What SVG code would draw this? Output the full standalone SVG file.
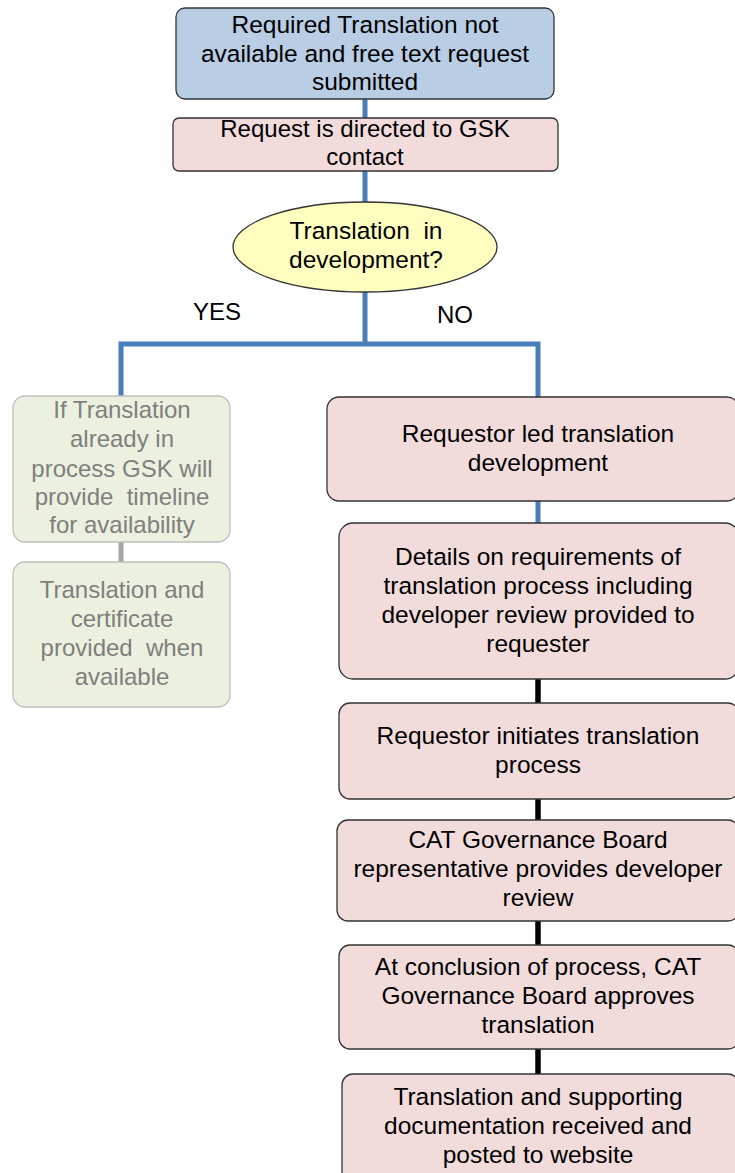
<svg xmlns="http://www.w3.org/2000/svg" width="735" height="1173" viewBox="0 0 735 1173">
<style>
.t{font-family:"Liberation Sans",Arial,sans-serif;font-size:24.5px;fill:#000;text-anchor:middle}
.s{font-size:24px}
.g{fill:#7f7f7f;font-size:24px}
.blue{fill:#b9cde5;stroke:#333;stroke-width:1.3}
.pink{fill:#f2dcdb;stroke:#333;stroke-width:1.3}
.grey{fill:#ebf1de;stroke:#bfbfbf;stroke-width:1.3}
.yel{fill:#ffffc0;stroke:#333;stroke-width:1.3}
.cb{fill:none;stroke:#4a7ebb;stroke-width:5}
.ck{fill:none;stroke:#000;stroke-width:5.5}
.cg{fill:none;stroke:#a6a6a6;stroke-width:5}
</style>
<rect width="735" height="1173" fill="#fff"/>
<g id="connectors">
<line class="cb" x1="365" y1="99" x2="365" y2="118"/>
<line class="cb" x1="365" y1="171" x2="365" y2="202"/>
<polyline class="cb" points="121,397 121,344 538,344 538,397"/>
<line class="cb" x1="365" y1="292" x2="365" y2="344"/>
<line class="cb" x1="538" y1="501" x2="538" y2="523"/>
<line class="cg" x1="121" y1="542" x2="121" y2="562"/>
<line class="ck" x1="538" y1="679" x2="538" y2="703"/>
<line class="ck" x1="538" y1="799" x2="538" y2="820"/>
<line class="ck" x1="538" y1="921" x2="538" y2="945"/>
<line class="ck" x1="538" y1="1049" x2="538" y2="1074"/>
<text class="t s" x="217" y="320">YES</text>
<text class="t s" x="455" y="323">NO</text>
</g>
<g id="n1">
<rect class="blue" x="176" y="8" width="378" height="91" rx="9"/>
<text class="t" x="365" y="33">Required Translation not</text>
<text class="t" x="365" y="62">available and free text request</text>
<text class="t" x="365" y="90">submitted</text>
</g>
<g id="n2">
<rect class="pink" x="173" y="118" width="385" height="53" rx="6"/>
<text class="t s" x="365" y="137">Request is directed to GSK</text>
<text class="t s" x="365" y="165">contact</text>
</g>
<g id="n3">
<ellipse class="yel" cx="365" cy="247" rx="132" ry="45"/>
<text class="t" x="366" y="239" xml:space="preserve">Translation  in</text>
<text class="t" x="366" y="268">development?</text>
</g>
<g id="n4">
<rect class="grey" x="13" y="396" width="217" height="146" rx="12"/>
<text class="t g" x="122" y="418">If Translation</text>
<text class="t g" x="122" y="447">already in</text>
<text class="t g" x="122" y="477">process GSK will</text>
<text class="t g" x="122" y="505" xml:space="preserve">provide  timeline</text>
<text class="t g" x="122" y="533">for availability</text>
</g>
<g id="n5">
<rect class="grey" x="13" y="562" width="217" height="145" rx="12"/>
<text class="t g" x="122" y="598">Translation and</text>
<text class="t g" x="122" y="627">certificate</text>
<text class="t g" x="122" y="656" xml:space="preserve">provided  when</text>
<text class="t g" x="122" y="685">available</text>
</g>
<g id="n6">
<rect class="pink" x="327" y="397" width="412" height="104" rx="12"/>
<text class="t" x="538" y="442">Requestor led translation</text>
<text class="t" x="538" y="471">development</text>
</g>
<g id="n7">
<rect class="pink" x="339" y="523" width="400" height="156" rx="14"/>
<text class="t" x="538" y="565">Details on requirements of</text>
<text class="t" x="538" y="594">translation process including</text>
<text class="t" x="538" y="623">developer review provided to</text>
<text class="t" x="538" y="652">requester</text>
</g>
<g id="n8">
<rect class="pink" x="339" y="703" width="400" height="96" rx="11"/>
<text class="t" x="538" y="744">Requestor initiates translation</text>
<text class="t" x="538" y="773">process</text>
</g>
<g id="n9">
<rect class="pink" x="337" y="820" width="402" height="101" rx="11"/>
<text class="t" x="538" y="848">CAT Governance Board</text>
<text class="t" x="538" y="877">representative provides developer</text>
<text class="t" x="538" y="906">review</text>
</g>
<g id="n10">
<rect class="pink" x="339" y="945" width="400" height="104" rx="11"/>
<text class="t" x="538" y="975">At conclusion of process, CAT</text>
<text class="t" x="538" y="1004">Governance Board approves</text>
<text class="t" x="538" y="1033">translation</text>
</g>
<g id="n11">
<rect class="pink" x="342" y="1074" width="397" height="120" rx="11"/>
<text class="t" x="538" y="1105">Translation and supporting</text>
<text class="t" x="538" y="1134">documentation received and</text>
<text class="t" x="538" y="1163">posted to website</text>
</g>
</svg>
